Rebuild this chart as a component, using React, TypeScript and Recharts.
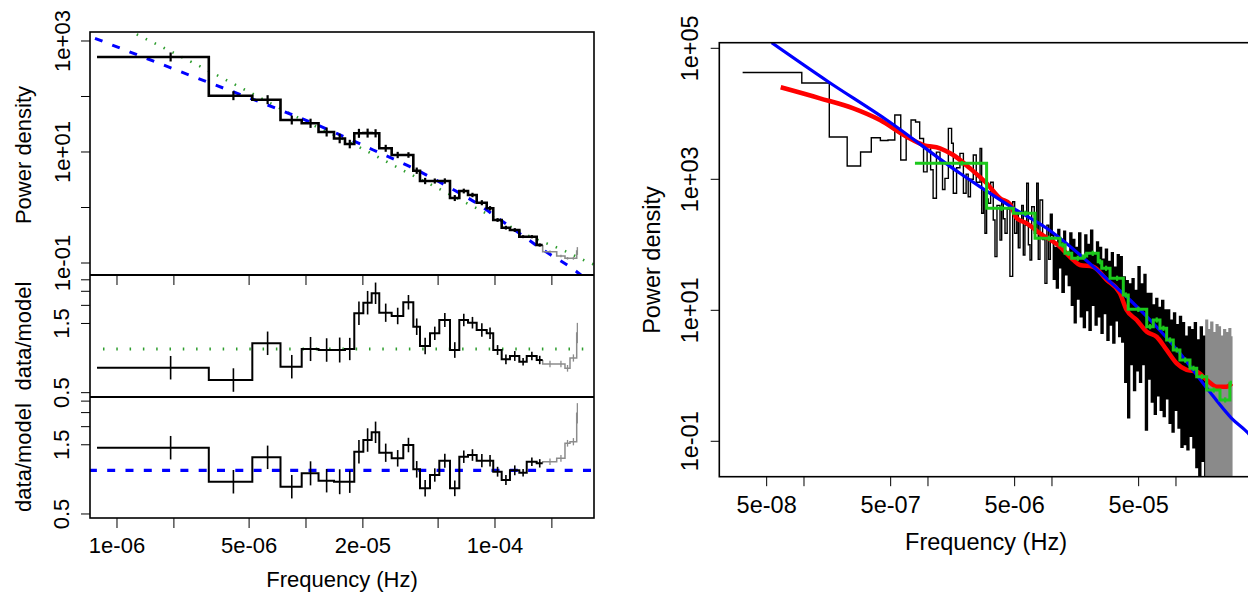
import React from 'react';
import { ComposedChart, Line, Scatter, ErrorBar, XAxis, YAxis } from 'recharts';

const FONT = '"Liberation Sans", Arial, Helvetica, sans-serif';

// ---------- left figure: binned periodogram + two data/model panels ----------
const binEdges = [
  7.84e-7, 3.06e-6, 5.2e-6, 7.33e-6, 9.49e-6, 1.165e-5, 1.407e-5, 1.608e-5, 1.801e-5, 2.011e-5,
  2.226e-5, 2.442e-5, 2.84e-5, 3.272e-5, 3.697e-5, 4.01e-5, 4.53e-5, 5.075e-5, 5.78e-5, 6.475e-5,
  7.2e-5, 8.0e-5, 9.04e-5, 9.79e-5, 1.085e-4, 1.2e-4, 1.345e-4, 1.472e-4, 1.662e-4, 1.788e-4,
];
const grayEdges = [1.788e-4, 2.121e-4, 2.346e-4, 2.494e-4, 2.706e-4, 2.75e-4];

const binPower = [
  515, 103.4, 87.6, 37.7, 32.9, 22.9, 17.5, 13.9, 21.7, 21.9, 21.7, 11.66, 8.83, 8.83, 4.6,
  3.0, 3.0, 3.0, 1.48, 1.98, 1.68, 1.22, 0.967, 0.595, 0.433, 0.393, 0.298, 0.298, 0.211,
];
const grayPower = [0.16, 0.134, 0.1215, 0.1215, 0.1645];

// data/model against the bending (green dotted) model
const ratioBend = [
  0.743, 0.611, 1.095, 0.755, 1.0, 0.984, 0.984, 1.0, 1.763, 2.086, 2.422, 1.779, 1.689, 2.1, 1.425,
  1.049, 1.283, 1.585, 0.984, 1.585, 1.518, 1.352, 1.283, 0.984, 0.849, 0.895, 0.817, 0.895, 0.84,
];
const grayRatioBend = [0.788, 0.788, 0.736, 0.867, 1.289];

// data/model against the power-law (blue dashed) model
const ratioPow = [
  1.432, 0.834, 1.229, 0.771, 0.953, 0.848, 0.834, 0.834, 1.344, 1.618, 1.828, 1.322, 1.21, 1.494,
  1.016, 0.751, 0.928, 1.165, 0.751, 1.241, 1.275, 1.165, 1.165, 0.978, 0.857, 1.0, 0.963, 1.146, 1.117,
];
const grayRatioPow = [1.146, 1.21, 1.536, 1.575, 2.473];

// error half-widths in decades
const binErrDex = [
  0.081, 0.081, 0.081, 0.081, 0.083, 0.081, 0.086, 0.077, 0.081, 0.081, 0.074, 0.063, 0.057, 0.05,
  0.057, 0.057, 0.046, 0.048, 0.054, 0.043, 0.04, 0.046, 0.04, 0.034, 0.034, 0.034, 0.026, 0.029, 0.029,
];
const grayErrDex = [0.023, 0.023, 0.023, 0.025, 0.07];

const powModel = [
  [7.65e-7, 1118], [2.98e-6, 184.8], [5.94e-6, 75.4], [1.454e-5, 21.7], [2.27e-5, 10.86],
  [3.55e-5, 5.43], [5.44e-5, 2.543], [8.0e-5, 1.19], [1.2e-4, 0.451], [1.8e-4, 0.1715],
  [2.706e-4, 0.0697], [2.9e-4, 0.058],
];
const bendModel = [
  [1.14e-6, 1580], [1.323e-6, 1231], [2.555e-6, 396.5], [4.855e-6, 127.2], [1.0086e-5, 34.7],
  [1.745e-5, 14.35], [2.995e-5, 5.43], [5.12e-5, 2.128], [8.78e-5, 0.819], [1.472e-4, 0.3196],
  [2.326e-4, 0.1666], [3.22e-4, 0.0988], [3.4e-4, 0.092],
];
const bendUnity = [[8.43e-7, 1], [3.4e-4, 1]];
const powUnity = [[7.1e-7, 1], [3.4e-4, 1]];

const leftXTicks = [1e-6, 2e-6, 5e-6, 1e-5, 2e-5, 5e-5, 1e-4, 2e-4];
const leftXLabeled = [1e-6, 5e-6, 2e-5, 1e-4];
const topYTicks = [0.1, 1, 10, 100, 1000];
const topYLabeled = [0.1, 10, 1000];
const ratioYTicks = [0.5, 1.5, 2, 2.5, 3];
const ratioYLabeled = [0.5, 1.5];

// ---------- right figure: raw periodogram with fits ----------
const pgramLow = [
  [3.2e-8, 42700], [9.6e-8, 29500], [1.6e-7, 4430], [2.23e-7, 1600], [2.86e-7, 2610],
  [3.49e-7, 4310], [4.13e-7, 3910], [4.76e-7, 3980], [5.4e-7, 9590], [6.03e-7, 1970],
  [6.67e-7, 4470], [7.3e-7, 8040], [7.94e-7, 7500], [8.57e-7, 4200], [9.21e-7, 1300],
];
const pgramMid = [
  [9.84e-7, 3300], [1.05e-6, 1400], [1.1e-6, 513], [1.17e-6, 2600], [1.25e-6, 1754], [1.31e-6, 700],
  [1.37e-6, 1035], [1.46e-6, 6000], [1.55e-6, 3550], [1.6e-6, 611], [1.7e-6, 1500], [1.81e-6, 2490],
  [1.93e-6, 611], [2.03e-6, 1200], [2.11e-6, 542], [2.2e-6, 1000], [2.32e-6, 2350], [2.45e-6, 900],
  [2.63e-6, 2970], [2.71e-6, 303], [2.8e-6, 700], [2.88e-6, 150], [2.97e-6, 500], [3.06e-6, 430],
  [3.2e-6, 900], [3.36e-6, 239], [3.47e-6, 66], [3.6e-6, 400], [3.81e-6, 118], [3.93e-6, 483],
  [4.05e-6, 250], [4.18e-6, 150], [4.35e-6, 350], [4.58e-6, 33], [4.82e-6, 455], [5.0e-6, 150],
  [5.2e-6, 300], [5.35e-6, 90], [5.52e-6, 240], [5.7e-6, 400], [5.87e-6, 70], [6.05e-6, 200],
  [6.25e-6, 869], [6.45e-6, 100], [6.65e-6, 58.6], [6.86e-6, 382], [7.2e-6, 150], [7.53e-6, 869],
  [7.75e-6, 60], [8.0e-6, 483], [8.4e-6, 120], [8.78e-6, 25.8], [9.1e-6, 200], [9.4e-6, 60], [9.7e-6, 300],
];
const pgramHigh = [
  [1.0e-5, 140], [1.03e-5, 30], [1.06e-5, 90], [1.09e-5, 22], [1.12e-5, 170], [1.15e-5, 45],
  [1.18e-5, 110], [1.21e-5, 19], [1.25e-5, 160], [1.28e-5, 35], [1.32e-5, 75], [1.36e-5, 24],
  [1.4e-5, 150], [1.44e-5, 12], [1.48e-5, 120], [1.52e-5, 6.5], [1.56e-5, 90], [1.6e-5, 15],
  [1.65e-5, 150], [1.7e-5, 8], [1.75e-5, 60], [1.8e-5, 5.5], [1.85e-5, 140], [1.9e-5, 10],
  [1.95e-5, 100], [2.0e-5, 5], [2.06e-5, 165], [2.12e-5, 12], [2.18e-5, 70], [2.24e-5, 6],
  [2.3e-5, 110], [2.36e-5, 8], [2.43e-5, 90], [2.5e-5, 4.5], [2.57e-5, 60], [2.64e-5, 9],
  [2.71e-5, 85], [2.79e-5, 3.5], [2.87e-5, 55], [2.95e-5, 6], [3.03e-5, 75], [3.11e-5, 3.2],
  [3.2e-5, 45], [3.29e-5, 7], [3.38e-5, 70], [3.47e-5, 4], [3.57e-5, 65], [3.67e-5, 3.3],
  [3.77e-5, 32], [3.88e-5, 0.8], [3.99e-5, 28], [4.1e-5, 0.23], [4.21e-5, 25], [4.33e-5, 1.5],
  [4.45e-5, 30], [4.57e-5, 0.6], [4.7e-5, 20], [4.83e-5, 1.2], [4.97e-5, 46], [5.11e-5, 0.8],
  [5.25e-5, 25], [5.4e-5, 1.5], [5.55e-5, 35], [5.7e-5, 0.15], [5.86e-5, 18], [6.02e-5, 0.9],
  [6.19e-5, 18], [6.36e-5, 0.4], [6.54e-5, 12], [6.72e-5, 0.26], [6.91e-5, 15], [7.1e-5, 0.5],
  [7.3e-5, 11], [7.5e-5, 0.3], [7.71e-5, 14], [7.93e-5, 0.24], [8.15e-5, 10], [8.38e-5, 0.45],
  [8.61e-5, 10], [8.85e-5, 0.19], [9.1e-5, 7], [9.35e-5, 0.14], [9.61e-5, 9], [9.88e-5, 0.3],
  [1.016e-4, 6], [1.044e-4, 0.16], [1.073e-4, 8], [1.103e-4, 0.082], [1.134e-4, 6.4], [1.166e-4, 0.09],
  [1.198e-4, 4], [1.232e-4, 0.075], [1.266e-4, 5.5], [1.302e-4, 0.12], [1.338e-4, 5], [1.376e-4, 0.08],
  [1.414e-4, 6.4], [1.454e-4, 0.04], [1.494e-4, 3.5], [1.536e-4, 0.03], [1.579e-4, 5.5], [1.623e-4, 0.05],
  [1.669e-4, 4], [1.715e-4, 0.025],
];
const pgramGray = [
  [1.75e-4, 7], [1.79e-4, 0.02], [1.83e-4, 5], [1.88e-4, 0.025], [1.92e-4, 6.5], [1.97e-4, 0.02],
  [2.02e-4, 4.5], [2.07e-4, 0.03], [2.12e-4, 6], [2.17e-4, 0.02], [2.22e-4, 5.5], [2.27e-4, 0.022],
  [2.33e-4, 4], [2.39e-4, 0.02], [2.44e-4, 5], [2.5e-4, 0.025], [2.56e-4, 4.5], [2.62e-4, 0.02],
  [2.69e-4, 5.2], [2.75e-4, 0.02], [2.81e-4, 4],
];
const redFit = [
  [6.49e-8, 25400], [1.345e-7, 17250], [2.5e-7, 12130], [4.1e-7, 8040], [6.73e-7, 4470],
  [9.16e-7, 3340], [1.25e-6, 2974], [1.6e-6, 2350], [2.18e-6, 1472], [2.97e-6, 869], [3.81e-6, 513],
  [4.58e-6, 420], [5.19e-6, 256.5], [6.25e-6, 213], [8.0e-6, 150], [1.16e-5, 93.5], [1.486e-5, 58.6],
  [1.68e-5, 49.2], [2.15e-5, 46.3], [2.76e-5, 29.0], [3.53e-5, 18.2], [4.0e-5, 10.1], [4.82e-5, 7.11],
  [5.81e-5, 4.71], [6.98e-5, 3.95], [8.41e-5, 2.48], [1.014e-4, 1.55], [1.22e-4, 1.23], [1.47e-4, 1.156],
  [1.77e-4, 0.863], [2.13e-4, 0.682], [2.56e-4, 0.682], [2.81e-4, 0.768],
];
const blueFit = [
  [5.49e-8, 121800], [1.57e-7, 30900], [4.65e-7, 8040], [1.81e-6, 1235], [2.62e-6, 771],
  [4.88e-6, 361], [9.06e-6, 178.6], [2.94e-5, 27.3], [4.26e-5, 14.36], [6.56e-5, 6.34],
  [1.076e-4, 2.21], [1.77e-4, 0.652], [2.81e-4, 0.2245], [3.81e-4, 0.134], [4.75e-4, 0.079],
];
const greenEdges = [
  7.85e-7, 2.97e-6, 4.88e-6, 7.3e-6, 1.16e-5, 1.274e-5, 1.443e-5, 1.786e-5, 1.905e-5, 2.36e-5,
  2.52e-5, 2.94e-5, 3.76e-5, 4.12e-5, 5.81e-5, 6.56e-5, 7.43e-5, 8.41e-5, 9.51e-5, 1.076e-4,
  1.297e-4, 1.47e-4, 1.77e-4, 2.265e-4, 2.72e-4, 2.81e-4,
];
const greenPower = [
  1754, 361, 303, 125.7, 99.3, 74.1, 62.2, 67.5, 74.1, 55.2, 43.8, 30.8, 17.1, 10.35, 5.62, 7.11,
  5.31, 3.52, 2.48, 1.74, 1.3, 0.968, 0.607, 0.428, 0.768,
];
const greenErrDex = [
  0.035, 0.04, 0.04, 0.04, 0.04, 0.04, 0.04, 0.04, 0.04, 0.04, 0.04, 0.04, 0.04, 0.04, 0.04, 0.04,
  0.04, 0.04, 0.04, 0.04, 0.04, 0.04, 0.04, 0.04, 0.04,
];

const rightXTicks = [5e-8, 1e-7, 5e-7, 1e-6, 5e-6, 1e-5, 5e-5, 1e-4];
const rightXLabeled = [5e-8, 5e-7, 5e-6, 5e-5];
const rightYTicks = [0.1, 10, 1000, 1e5];

// ---------- helpers ----------
type Row = { f: number; p: number; err?: number[] };
const rows = (pairs: number[][]): Row[] => pairs.map(([f, p]) => ({ f, p }));
const stepRows = (edges: number[], vals: number[], lead?: number): Row[] => {
  const r = edges.map((f, i) => ({ f, p: vals[Math.min(i, vals.length - 1)] }));
  return lead === undefined ? r : [{ f: edges[0], p: lead }, ...r];
};
const errRows = (edges: number[], vals: number[], dex: number[]): Row[] =>
  vals.map((p, i) => {
    const k = 10 ** dex[i];
    return { f: (edges[i] + edges[i + 1]) / 2, p, err: [p - p / k, p * k - p] };
  });

const has = (list: number[], v: number) => list.some((t) => Math.abs(t / v - 1) < 1e-6);
const sci = (v: number) => {
  const e = Math.floor(Math.log10(v) + 1e-9);
  const m = Math.round(v / 10 ** e);
  return `${m}e${e < 0 ? '-' : '+'}${String(Math.abs(e)).padStart(2, '0')}`;
};

const xTick = (labeled: number[], dy: number, fs: number) => (props: any) => {
  const { x, y, payload } = props;
  if (!has(labeled, payload.value)) return <g />;
  return (
    <text x={x} y={y + dy} textAnchor="middle" fontSize={fs} fontFamily={FONT} fill="#000">
      {sci(payload.value)}
    </text>
  );
};
const yTick = (labeled: number[], dx: number, fs: number, fmt: (v: number) => string) => (props: any) => {
  const { x, y, payload } = props;
  if (!has(labeled, payload.value)) return <g />;
  const bx = x - dx;
  return (
    <text x={bx} y={y} transform={`rotate(-90 ${bx} ${y})`} textAnchor="middle" fontSize={fs} fontFamily={FONT} fill="#000">
      {fmt(payload.value)}
    </text>
  );
};
const blankTick = () => <g />;
const noShape = () => <g />;

const LX: [number, number] = [7.197e-7, 3.341e-4];
const RX: [number, number] = [2.075e-8, 4.18e-4];
const tickStroke = { stroke: '#000', strokeWidth: 1 };

// ---------- panels ----------
const TopPanel = () => (
  <ComposedChart width={600} height={290} margin={{ top: 32, right: 6, bottom: 0, left: 0 }}>
    <XAxis dataKey="f" type="number" scale="log" domain={LX} allowDataOverflow ticks={leftXTicks} interval={0}
      tick={blankTick} tickSize={10} axisLine={false} tickLine={tickStroke} height={15} />
    <YAxis type="number" scale="log" domain={[0.0608, 1452]} allowDataOverflow ticks={topYTicks} interval={0}
      tick={yTick(topYLabeled, 11, 22, sci)} tickSize={9} tickMargin={0} width={90} axisLine={false} tickLine={tickStroke} />
    <Line data={rows(bendModel)} dataKey="p" type="monotone" stroke="#2e9d2e" strokeWidth={2.6}
      strokeDasharray="1.5 8.5" dot={false} isAnimationActive={false} />
    <Line data={rows(powModel)} dataKey="p" type="monotone" stroke="#0000ff" strokeWidth={3}
      strokeDasharray="8 10.5" dot={false} isAnimationActive={false} />
    <Line data={stepRows(grayEdges, grayPower, binPower[binPower.length - 1])} dataKey="p" type="stepAfter"
      stroke="#8c8c8c" strokeWidth={1.6} dot={false} isAnimationActive={false} />
    <Line data={stepRows(binEdges, binPower)} dataKey="p" type="stepAfter" stroke="#000" strokeWidth={2.6}
      dot={false} isAnimationActive={false} />
    <Scatter data={errRows(binEdges, binPower, binErrDex)} dataKey="p" shape={noShape} isAnimationActive={false}>
      <ErrorBar dataKey="err" direction="y" width={0} stroke="#000" strokeWidth={2.2} />
    </Scatter>
    <Scatter data={errRows(grayEdges, grayPower, grayErrDex)} dataKey="p" shape={noShape} isAnimationActive={false}>
      <ErrorBar dataKey="err" direction="y" width={0} stroke="#8c8c8c" strokeWidth={1.4} />
    </Scatter>
  </ComposedChart>
);

const RatioPanel = (props: {
  top: number; height: number; bottom: number; xAxis: boolean; black: number[]; gray: number[];
  unity: number[][]; unityColor: string; unityDash: string; unityWidth: number; domain: [number, number];
}) => (
  <ComposedChart width={600} height={props.height} margin={{ top: props.top, right: 6, bottom: props.bottom, left: 0 }}>
    <XAxis dataKey="f" type="number" scale="log" domain={LX} allowDataOverflow ticks={leftXTicks} interval={0}
      hide={!props.xAxis} tick={xTick(leftXLabeled, 25, 22)} tickSize={10} tickMargin={0}
      axisLine={false} tickLine={tickStroke} height={props.xAxis ? 76 : 0} />
    <YAxis type="number" scale="log" domain={props.domain} allowDataOverflow ticks={ratioYTicks} interval={0}
      tick={yTick(ratioYLabeled, 12, 22, (v) => String(v))} tickSize={9} tickMargin={0} width={90}
      axisLine={false} tickLine={tickStroke} />
    <Line data={rows(props.unity)} dataKey="p" type="linear" stroke={props.unityColor} strokeWidth={props.unityWidth}
      strokeDasharray={props.unityDash} dot={false} isAnimationActive={false} />
    <Line data={stepRows(grayEdges, props.gray, props.black[props.black.length - 1])} dataKey="p" type="stepAfter"
      stroke="#8c8c8c" strokeWidth={1.5} dot={false} isAnimationActive={false} />
    <Line data={stepRows(binEdges, props.black)} dataKey="p" type="stepAfter" stroke="#000" strokeWidth={2}
      dot={false} isAnimationActive={false} />
    <Scatter data={errRows(binEdges, props.black, binErrDex)} dataKey="p" shape={noShape} isAnimationActive={false}>
      <ErrorBar dataKey="err" direction="y" width={0} stroke="#000" strokeWidth={1.6} />
    </Scatter>
    <Scatter data={errRows(grayEdges, props.gray, grayErrDex)} dataKey="p" shape={noShape} isAnimationActive={false}>
      <ErrorBar dataKey="err" direction="y" width={0} stroke="#8c8c8c" strokeWidth={1.3} />
    </Scatter>
  </ComposedChart>
);

const lastMid = pgramMid[pgramMid.length - 1][1];
const lastBlack = pgramHigh[pgramHigh.length - 1][1];

const RightPanel = () => (
  <ComposedChart width={680} height={594} margin={{ top: 42.7, right: 27, bottom: 0, left: 0 }}>
    <XAxis dataKey="f" type="number" scale="log" domain={RX} allowDataOverflow ticks={rightXTicks} interval={0}
      tick={xTick(rightXLabeled, 27, 23.5)} tickSize={9.5} tickMargin={0} axisLine={false} tickLine={tickStroke} height={117.3} />
    <YAxis type="number" scale="log" domain={[0.0288, 121800]} allowDataOverflow ticks={rightYTicks} interval={0}
      tick={yTick(rightYTicks, 12.7, 23.5, sci)} tickSize={8.6} tickMargin={0} width={119.3} axisLine={false} tickLine={tickStroke} />
    <Line data={rows([...pgramLow, ...pgramMid])} dataKey="p" type="stepAfter" stroke="#000"
      strokeWidth={1.4} dot={false} isAnimationActive={false} />
    <Line data={[{ f: pgramHigh[0][0], p: lastMid }, ...rows(pgramHigh)]} dataKey="p" type="stepAfter" stroke="#000"
      strokeWidth={1.9} dot={false} isAnimationActive={false} />
    <Line data={[{ f: pgramGray[0][0], p: lastBlack }, ...rows(pgramGray)]} dataKey="p" type="stepAfter"
      stroke="#8a8a8a" strokeWidth={1.9} dot={false} isAnimationActive={false} />
    <Line data={rows(redFit)} dataKey="p" type="monotone" stroke="#ff0000" strokeWidth={4.5} dot={false} isAnimationActive={false} />
    <Line data={rows(blueFit)} dataKey="p" type="monotone" stroke="#0000ff" strokeWidth={3.2} dot={false} isAnimationActive={false} />
    <Line data={stepRows(greenEdges, greenPower)} dataKey="p" type="stepAfter" stroke="#1cc81c" strokeWidth={3}
      dot={false} isAnimationActive={false} />
    <Scatter data={errRows(greenEdges, greenPower, greenErrDex)} dataKey="p" shape={noShape} isAnimationActive={false}>
      <ErrorBar dataKey="err" direction="y" width={0} stroke="#1cc81c" strokeWidth={2.2} />
    </Scatter>
  </ComposedChart>
);

const txt = { fontFamily: FONT, fill: '#000' };

export default function App() {
  return (
    <div style={{ position: 'fixed', left: 0, top: 0, width: 1248, height: 594, overflow: 'hidden', background: '#fff' }}>
      <div style={{ position: 'absolute', left: 0, top: 0 }}><TopPanel /></div>
      <div style={{ position: 'absolute', left: 0, top: 0 }}>
        <RatioPanel top={275} height={425} bottom={28} xAxis={false} black={ratioBend} gray={grayRatioBend}
          unity={bendUnity} unityColor="#2e9d2e" unityDash="1.5 11.8" unityWidth={3} domain={[0.4667, 3.238]} />
      </div>
      <div style={{ position: 'absolute', left: 0, top: 0 }}>
        <RatioPanel top={397} height={594} bottom={0} xAxis black={ratioPow} gray={grayRatioPow}
          unity={powUnity} unityColor="#0000ff" unityDash="8 10.3" unityWidth={3.2} domain={[0.469, 3.203]} />
      </div>
      <div style={{ position: 'absolute', left: 600, top: 0 }}><RightPanel /></div>
      <svg width={1248} height={594} style={{ position: 'absolute', left: 0, top: 0, pointerEvents: 'none' }}>
        <rect x={90} y={32} width={504} height={486} fill="none" stroke="#000" strokeWidth={1.6} />
        <line x1={90} x2={594} y1={275} y2={275} stroke="#000" strokeWidth={1.8} />
        <line x1={90} x2={594} y1={397} y2={397} stroke="#000" strokeWidth={1.8} />
        <rect x={719.3} y={42.7} width={533.7} height={434} fill="none" stroke="#000" strokeWidth={1.6} />
        <text {...txt} fontSize={22} textAnchor="middle" x={30.5} y={155} transform="rotate(-90 30.5 155)">Power density</text>
        <text {...txt} fontSize={22} textAnchor="middle" x={30.5} y={336} transform="rotate(-90 30.5 336)">data/model</text>
        <text {...txt} fontSize={22} textAnchor="middle" x={30.5} y={457.5} transform="rotate(-90 30.5 457.5)">data/model</text>
        <text {...txt} fontSize={22} textAnchor="middle" x={342} y={587}>Frequency (Hz)</text>
        <text {...txt} fontSize={23.5} textAnchor="middle" x={660} y={260} transform="rotate(-90 660 260)">Power density</text>
        <text {...txt} fontSize={23.5} textAnchor="middle" x={986} y={550}>Frequency (Hz)</text>
      </svg>
    </div>
  );
}
